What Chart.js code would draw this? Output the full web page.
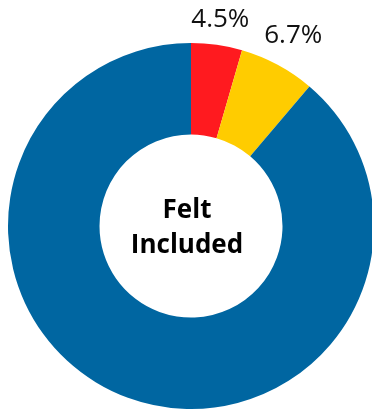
<!DOCTYPE html>
<html>
<head>
<meta charset="utf-8">
<script src="https://cdn.jsdelivr.net/npm/chart.js@4/dist/chart.umd.min.js"></script>
<style>
  html, body { margin: 0; padding: 0; background: #fff; overflow: hidden; width: 372px; height: 410px; }
  #wrap { position: absolute; left: 0; top: 0; width: 382px; height: 410px; }
</style>
</head>
<body>
<div id="wrap"><canvas id="c" width="382" height="410"></canvas></div>
<script>
const categories = ["Not included", "Unsure", "Felt included"];
const values = [4.5, 6.7, 88.8];
const labelTexts = ["4.5%", "6.7%", ""];
const colors = ["#FF1A1F", "#FFCC00", "#0066A1"];
const centerLines = ["Felt", "Included"];

const outsideLabels = {
  id: 'outsideLabels',
  afterDraw(chart) {
    const ctx = chart.ctx;
    const meta = chart.getDatasetMeta(0);
    const gaps = [25, 33];
    ctx.save();
    ctx.font = '26px "Open Sans"';
    ctx.fillStyle = '#111';
    ctx.textAlign = 'center';
    ctx.textBaseline = 'middle';
    meta.data.forEach((arc, i) => {
      if (!labelTexts[i]) return;
      const p = arc.getProps(['x', 'y', 'startAngle', 'endAngle', 'outerRadius'], true);
      const mid = (p.startAngle + p.endAngle) / 2;
      const r = p.outerRadius + gaps[i];
      ctx.fillText(labelTexts[i], p.x + Math.cos(mid) * r, p.y + Math.sin(mid) * r);
    });
    const a = meta.data[0];
    ctx.font = 'bold 26px "Open Sans"';
    ctx.fillStyle = '#000';
    ctx.fillText(centerLines[0], a.x - 4, a.y - 15);
    ctx.fillText(centerLines[1], a.x - 4, a.y + 20);
    ctx.restore();
  }
};

new Chart(document.getElementById('c'), {
  type: 'doughnut',
  data: {
    labels: categories,
    datasets: [{
      data: values,
      backgroundColor: colors,
      borderWidth: 0,
      hoverOffset: 0
    }]
  },
  options: {
    responsive: false,
    animation: false,
    cutout: '50%',
    layout: { padding: { top: 43, bottom: 1, left: 8, right: 8 } },
    plugins: {
      legend: { display: false },
      tooltip: { enabled: false }
    }
  },
  plugins: [outsideLabels]
});
</script>
</body>
</html>
